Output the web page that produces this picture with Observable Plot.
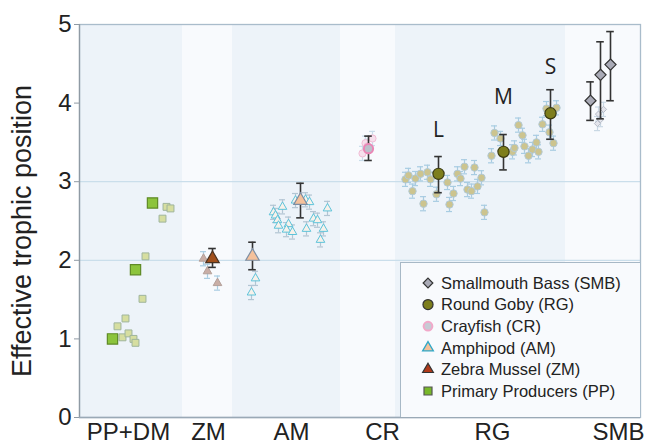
<!DOCTYPE html>
<html><head><meta charset="utf-8">
<script src="https://cdn.jsdelivr.net/npm/d3@7"></script>
<script src="https://cdn.jsdelivr.net/npm/@observablehq/plot@0.6"></script>
<style>
body{margin:0;background:#fff;}
#wrap{position:relative;width:647px;height:447px;font-family:"Liberation Sans",Arial,sans-serif;}
#legend{position:absolute;left:400px;top:262px;width:240px;height:155px;background:#f8fafd;border-top:1.5px solid #a7b8c6;border-left:1.5px solid #a7b8c6;box-sizing:border-box;}
</style></head><body><div id="wrap"></div>
<script>
// ---- categories / axis ----
const categories = ["PP+DM", "ZM", "AM", "CR", "RG", "SMB"];
const categoryCenters = [4.9, 12.9, 21.2, 30.3, 41.3, 53.9];
const bandEdges = [0, 10.3, 15.3, 26.1, 31.6, 48.6, 56.1];
const yTicks = [0, 1, 2, 3, 4, 5];
const gridValues = [2, 3];
const yLabel = "Effective trophic position";

// ---- data: [x position, trophic position] / [x, mean, low, high] ----
const ppSamples = [[3.8,1.16],[4.6,1.26],[4.3,1.02],[4.9,1.07],[5.4,1.00],[5.6,0.95],[6.3,1.51],[6.6,2.05],[8.3,2.53],[8.7,2.68],[9.1,2.66]];
const ppMeans = [[3.3,1.00],[5.6,1.88],[7.3,2.73]];
const zmSamples = [[12.4,2.02],[12.8,1.86],[13.8,1.71]];
const zmMeans = [[13.3,2.02,1.91,2.15]];
const amSamples = [[17.6,1.77],[17.2,1.59],[19.4,2.61],[19.6,2.57],[19.8,2.51],[19.9,2.44],[20.3,2.68],[20.9,2.46],[20.7,2.39],[21.3,2.36],[21.6,2.76],[22.6,2.77],[23.0,2.74],[22.7,2.40],[23.4,2.53],[23.8,2.51],[24.4,2.40],[24.1,2.26],[24.8,2.66]];
const amMeans = [[17.3,2.05,1.88,2.23],[22.1,2.76,2.54,2.98]];
const crSamples = [[28.6,3.49],[28.3,3.36],[29.3,3.55],[28.8,3.45]];
const crMeans = [[28.9,3.42,3.27,3.58]];
const rgSamples = [[32.6,3.03],[32.9,3.08],[33.3,2.88],[33.6,3.04],[34.1,3.10],[34.4,2.72],[34.8,3.12],[35.1,3.03],[35.7,2.84],[36.8,2.99],[37.0,2.71],[37.4,2.85],[37.8,3.10],[38.1,3.04],[38.5,3.19],[38.8,2.90],[39.2,2.88],[39.5,3.18],[39.8,2.94],[40.2,3.05],[40.5,2.61],[41.2,3.33],[41.5,3.62],[42.1,3.55],[43.3,3.38],[43.5,3.43],[43.9,3.72],[44.3,3.59],[44.5,3.45],[44.9,3.33],[45.3,3.41],[45.7,3.50],[45.9,3.38],[46.3,3.73],[46.7,3.93],[47.0,3.63],[47.4,3.49],[47.7,3.94]];
const rgMeans = [[35.9,3.10,2.86,3.32],[42.4,3.38,3.15,3.60],[47.1,3.87,3.54,4.17]];
const rgSizeLabels = ["L", "M", "S"];
const rgLabelY = [3.66, 4.08, 4.46];
const smbSamples = [[52.4,3.92],[51.9,3.86],[52.1,3.79],[51.8,3.74]];
const smbMeans = [[51.1,4.03,3.78,4.27],[52.1,4.36,3.80,4.78],[53.1,4.49,4.03,4.91]];
const sampleErr = 0.09;

const legendLabels = ["Smallmouth Bass (SMB)", "Round Goby (RG)", "Crayfish (CR)", "Amphipod (AM)", "Zebra Mussel (ZM)", "Primary Producers (PP)"];

// ---- styles ----
const groups = [
  {samples: ppSamples, means: ppMeans, symbol: "square", sFill: "#d6dea0", sStroke: "#9fb59c", sR: 3.9, sErr: false, mFill: "#8cc43c", mStroke: "#5f8a26", mR: 5.8, mErr: false},
  {samples: zmSamples, means: zmMeans, symbol: "triangle", sFill: "#c9aea6", sStroke: "#b3a09a", sR: 3.2, sErr: true, eStroke: "#a9cde2", mFill: "#a1501c", mStroke: "#4a3322", mR: 5, mErr: true},
  {samples: amSamples, means: amMeans, symbol: "triangle", sFill: "#f7f1ea", sStroke: "#5cc3da", sR: 3.2, sErr: true, eStroke: "#b3c5d3", mFill: "#f5c19b", mStroke: "#7d8ea3", mR: 5, mErr: true},
  {samples: crSamples, means: crMeans, symbol: "circle", sFill: "#f6e0ec", sStroke: "#f2bcd5", sR: 3.6, sErr: true, eStroke: "#c9dcea", mFill: "#bcc0cb", mStroke: "#ea86b6", mR: 4.6, mErr: true, mSW: 2},
  {samples: rgSamples, means: rgMeans, symbol: "circle", sFill: "#ccc48f", sStroke: "#b2c9d6", sR: 3.7, sErr: true, eStroke: "#a8cce2", mFill: "#7d7e1d", mStroke: "#3a3a12", mR: 5.6, mErr: true},
  {samples: smbSamples, means: smbMeans, symbol: "diamond2", sFill: "#e4e5ec", sStroke: "#b7bcc8", sR: 2.8, sErr: true, eStroke: "#c9d8e4", mFill: "#a9aab6", mStroke: "#333", mR: 5, mErr: true}
];

const bands = categories.map((c, i) => ({cat: c, x1: bandEdges[i], x2: bandEdges[i + 1], shade: i % 2 === 0}));
const toS = a => a.map(([x, y]) => ({x, y}));
const toM = a => a.map(([x, y, lo, hi]) => ({x, y, lo, hi}));

const marks = [
  Plot.rect(bands, {x1: "x1", x2: "x2", y1: yTicks[0], y2: yTicks[yTicks.length - 1], fill: d => d.shade ? "#edf3f9" : "#f8fafd"}),
  Plot.ruleY(gridValues, {stroke: "#cadeeb", strokeWidth: 1.3}),
  Plot.frame({stroke: "#a9bccb", strokeWidth: 1.3})
];
for (const g of groups) {
  const s = toS(g.samples);
  if (g.sErr) {
    marks.push(Plot.ruleX(s, {x: "x", y1: d => d.y - sampleErr, y2: d => d.y + sampleErr, stroke: g.eStroke, strokeWidth: 1.2}));
    marks.push(Plot.ruleY(s, {y: d => d.y + sampleErr, x1: d => d.x - 0.3, x2: d => d.x + 0.3, stroke: g.eStroke, strokeWidth: 1.2}));
    marks.push(Plot.ruleY(s, {y: d => d.y - sampleErr, x1: d => d.x - 0.3, x2: d => d.x + 0.3, stroke: g.eStroke, strokeWidth: 1.2}));
  }
  marks.push(Plot.dot(s, {x: "x", y: "y", symbol: g.symbol, r: g.sR, fill: g.sFill, stroke: g.sStroke, strokeWidth: 1}));
}
for (const g of groups) {
  const m = toM(g.means);
  if (g.mErr) {
    marks.push(Plot.ruleX(m, {x: "x", y1: "lo", y2: "hi", stroke: "#333", strokeWidth: 1.6}));
    marks.push(Plot.ruleY(m, {y: "hi", x1: d => d.x - 0.38, x2: d => d.x + 0.38, stroke: "#333", strokeWidth: 1.6}));
    marks.push(Plot.ruleY(m, {y: "lo", x1: d => d.x - 0.38, x2: d => d.x + 0.38, stroke: "#333", strokeWidth: 1.6}));
  }
  marks.push(Plot.dot(m, {x: "x", y: "y", symbol: g.symbol, r: g.mR, fill: g.mFill, stroke: g.mStroke, strokeWidth: g.mSW || 1.2}));
}
marks.push(Plot.text(rgMeans.map((d, i) => ({x: d[0], y: rgLabelY[i], t: rgSizeLabels[i]})), {x: "x", y: "y", text: "t", fontSize: 21, fill: "#222", fontFamily: "Open Sans"}));
marks.push(Plot.ruleX([0], {stroke: "#8f9aa4", strokeWidth: 1.3}));
marks.push(Plot.ruleY([0], {stroke: "#9aa9b6", strokeWidth: 1.3}));
marks.push(Plot.axisY({ticks: yTicks, tickFormat: d => String(d), tickSize: 5, tickPadding: 3, fontSize: 24, label: null, stroke: "#8f9aa4", fill: "#222"}));
marks.push(Plot.axisX({ticks: categoryCenters, tickFormat: d => categories[categoryCenters.indexOf(d)], tickSize: 0, tickPadding: 5, fontSize: 24, label: null, fill: "#222"}));
marks.push(Plot.text([yLabel], {frameAnchor: "left", textAnchor: "middle", rotate: -90, dx: -57, dy: 10, fontSize: 27, fill: "#222", text: d => d}));

const chart = Plot.plot({
  width: 647, height: 447,
  marginLeft: 79, marginRight: 7, marginTop: 24, marginBottom: 30,
  x: {domain: [bandEdges[0], bandEdges[bandEdges.length - 1]]},
  y: {domain: [yTicks[0], yTicks[yTicks.length - 1]]},
  style: {fontFamily: "Liberation Sans, Arial, sans-serif", background: "#fff", color: "#222", overflow: "visible"},
  marks
});
const wrap = document.getElementById("wrap");
wrap.appendChild(chart);

// ---- legend overlay ----
const leg = d3.select(wrap).append("div").attr("id", "legend");
const lsvg = leg.append("svg").attr("width", 238).attr("height", 153);
const legendStyles = [
  {symbol: d3.symbolDiamond2, size: 60, fill: "#a9aab6", stroke: "#333", sw: 1.2},
  {symbol: d3.symbolCircle, size: 80, fill: "#7d7e1d", stroke: "#333", sw: 1.2},
  {symbol: d3.symbolCircle, size: 60, fill: "#c7cad4", stroke: "#f2a8c9", sw: 2},
  {symbol: d3.symbolTriangle, size: 50, fill: "#f5c19b", stroke: "#2fa8c8", sw: 1.3},
  {symbol: d3.symbolTriangle, size: 50, fill: "#b03a1a", stroke: "#333", sw: 1.2},
  {symbol: d3.symbolSquare, size: 64, fill: "#78b82a", stroke: "#555", sw: 1.2}
];
legendLabels.forEach((lab, i) => {
  const st = legendStyles[i];
  const yy = 20 + i * 21.6;
  lsvg.append("path").attr("d", d3.symbol(st.symbol, st.size)()).attr("transform", `translate(27,${yy})`)
    .attr("fill", st.fill).attr("stroke", st.stroke).attr("stroke-width", st.sw);
  lsvg.append("text").attr("x", 40).attr("y", yy).attr("dy", "0.35em").attr("font-size", 16.5)
    .attr("font-family", "Liberation Sans, Arial, sans-serif").attr("fill", "#222").text(lab);
});
</script></body></html>
